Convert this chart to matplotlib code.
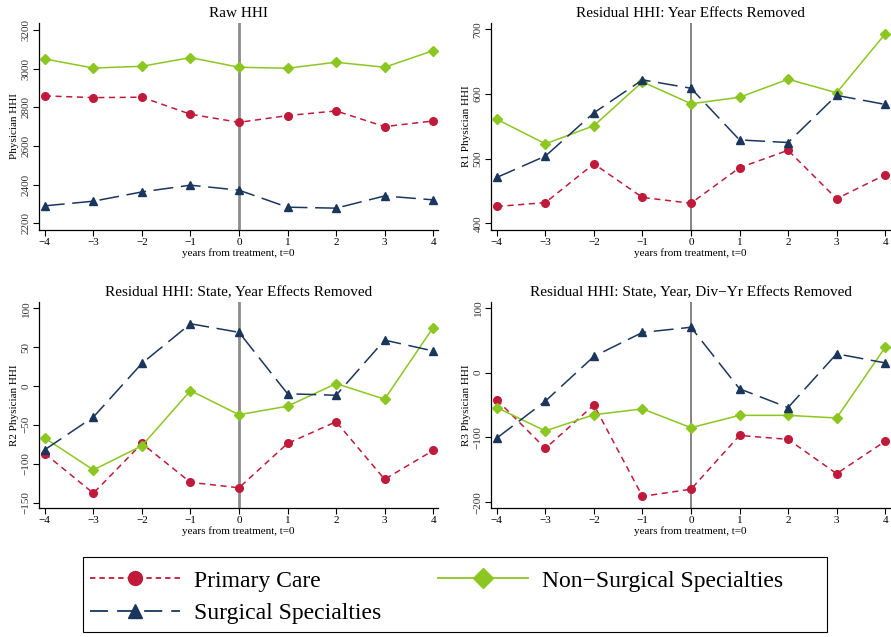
import matplotlib
matplotlib.use("Agg")
import matplotlib.pyplot as plt
import matplotlib.lines as mlines
import matplotlib.patches as mpatches

plt.rcParams['font.family'] = ['Liberation Serif', 'DejaVu Serif']

years = [-4, -3, -2, -1, 0, 1, 2, 3, 4]

raw_pc = [2859, 2850, 2852, 2764, 2722, 2757, 2781, 2700, 2729]
raw_ns = [3050, 3003, 3012, 3057, 3007, 3002, 3033, 3007, 3093]
raw_ss = [2290, 2314, 2362, 2397, 2371, 2283, 2278, 2341, 2321]

r1_pc = [426, 432, 492, 440, 431, 486, 513, 438, 475]
r1_ns = [561, 523, 551, 619, 585, 595, 623, 602, 693]
r1_ss = [471, 504, 571, 622, 609, 529, 525, 598, 584]

r2_pc = [-87, -138, -74, -124, -131, -74, -46, -120, -83]
r2_ns = [-67, -108, -77, -6, -37, -26, 3, -17, 75]
r2_ss = [-82, -40, 29, 80, 69, -10, -12, 59, 45]

r3_pc = [-42, -117, -50, -191, -180, -97, -103, -156, -106]
r3_ns = [-54, -90, -65, -56, -85, -66, -66, -70, 39]
r3_ss = [-101, -44, 25, 62, 70, -25, -54, 29, 15]

titles = ["Raw HHI", "Residual HHI: Year Effects Removed",
          "Residual HHI: State, Year Effects Removed",
          "Residual HHI: State, Year, Div\u2212Yr Effects Removed"]
ylabels = ["Physician HHI", "R1 Physician HHI", "R2 Physician HHI", "R3 Physician HHI"]
yticks = [[2200, 2400, 2600, 2800, 3000, 3200], [400, 500, 600, 700],
          [-150, -100, -50, 0, 50, 100], [-200, -100, 0, 100]]
ylims = [(2165, 3236), (389.6, 710), (-157, 108), (-209, 109)]
series = [(raw_pc, raw_ns, raw_ss), (r1_pc, r1_ns, r1_ss),
          (r2_pc, r2_ns, r2_ss), (r3_pc, r3_ns, r3_ss)]
labels = ["Primary Care", "Non\u2212Surgical Specialties", "Surgical Specialties"]

RED = '#C01A3A'
GREEN = '#8CC620'
NAVY = '#1B365D'

W, H = 891, 637
fig = plt.figure(figsize=(W / 100, H / 100), dpi=100)

# pixel boxes: left, top, right, bottom
boxes = [(39, 23, 438, 230), (491, 23, 890, 230),
         (39, 302, 438, 508), (491, 302, 890, 508)]
vcol = ['#8c8c8c', '#707070', '#8c8c8c', '#707070']
vlw = [2.0, 1.2, 2.0, 1.2]

for i, (l, t, r, b) in enumerate(boxes):
    ax = fig.add_axes([l / W, 1 - b / H, (r - l) / W, (b - t) / H])
    pc, ns, ss = series[i]
    ax.axvline(0, color=vcol[i], lw=vlw[i], zorder=1)
    ax.plot(years, pc, color=RED, lw=1.1, marker='o', ms=5.5,
            dashes=(4, 3), zorder=3)
    ax.plot(years, ns, color=GREEN, lw=1.1, marker='D', ms=5.5, zorder=3)
    ax.plot(years, ss, color=NAVY, lw=1.1, marker='^', ms=6,
            dashes=(13, 5), zorder=3)
    ax.set_xlim(-4.12, 4.1)
    ax.set_ylim(*ylims[i])
    ax.set_xticks(years)
    ax.set_xticklabels([str(y).replace('-', '\u2212') for y in years])
    ax.set_yticks(yticks[i])
    ax.set_yticklabels([str(v).replace('-', '\u2212') for v in yticks[i]],
                       rotation=90, va='center')
    ax.tick_params(labelsize=8, length=4, width=0.8, color='black', pad=2)
    ax.tick_params(axis='y', labelcolor='#333333')
    ax.spines['top'].set_visible(False)
    ax.spines['right'].set_visible(False)
    ax.spines['left'].set_linewidth(0.9)
    ax.spines['bottom'].set_linewidth(0.9)
    ax.set_title(titles[i], fontsize=11, pad=4)
    ax.set_xlabel("years from treatment, t=0", fontsize=8, labelpad=1)
    ax.set_ylabel(ylabels[i], fontsize=8, labelpad=2)
    ax.set_facecolor('white')

lh1 = mlines.Line2D([], [], color=RED, lw=1.3, marker='o', ms=10, dashes=(3, 2.2))
lh2 = mlines.Line2D([], [], color=GREEN, lw=1.3, marker='D', ms=10)
lh3 = mlines.Line2D([], [], color=NAVY, lw=1.3, marker='^', ms=10, dashes=(10, 5))

leg = fig.legend([lh1, lh3, lh2], [labels[0], labels[2], labels[1]],
                 ncol=2, loc='center left',
                 bbox_to_anchor=(90 / W, 1 - 597 / H),
                 fontsize=17, frameon=False, handlelength=3.8, handletextpad=0.6,
                 labelspacing=0.45, borderpad=0.0, columnspacing=2.4,
                 borderaxespad=0)

frame = mpatches.Rectangle((83 / W, 1 - 632 / H), (827 - 83) / W, (632 - 557) / H,
                           transform=fig.transFigure, fill=False,
                           edgecolor='black', lw=0.8)
fig.add_artist(frame)

fig.savefig("out.png", dpi=100, facecolor='white')
